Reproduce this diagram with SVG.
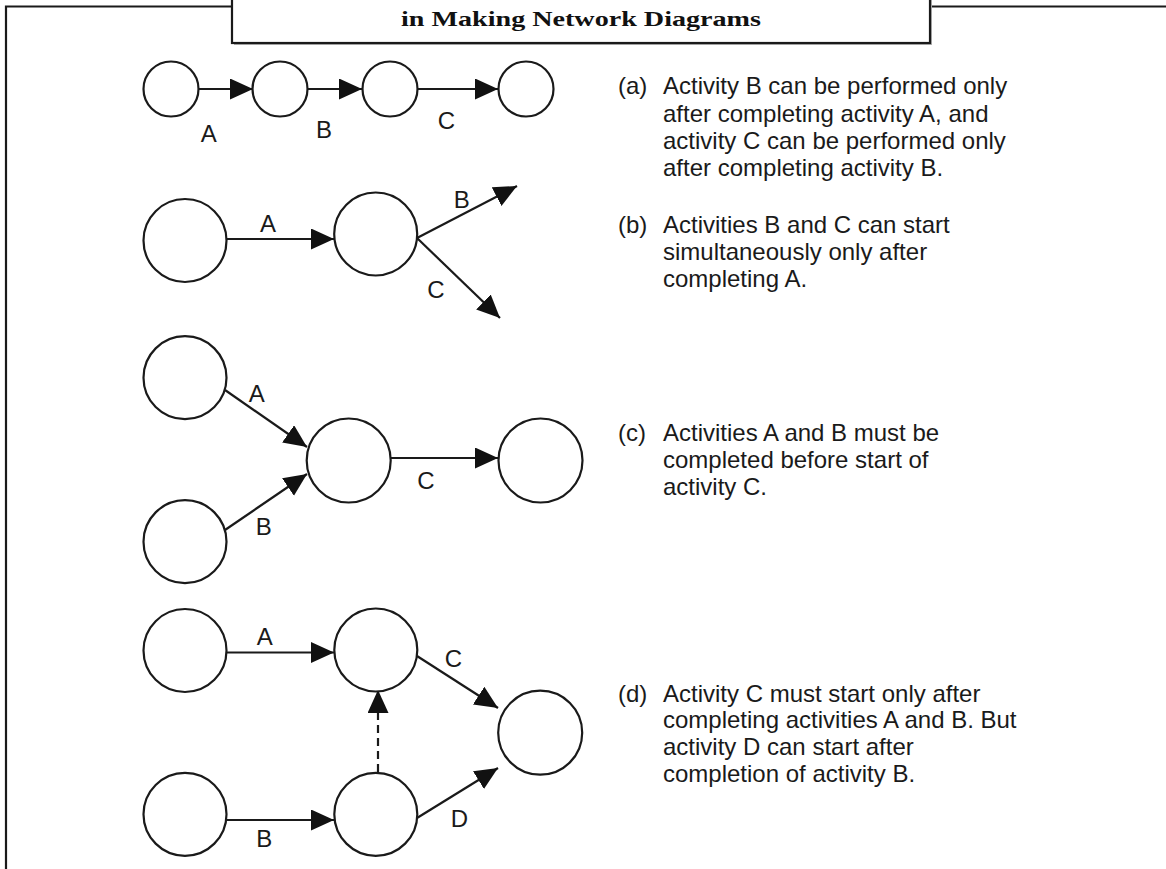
<svg xmlns="http://www.w3.org/2000/svg" width="1166" height="869" viewBox="0 0 1166 869">
  <style>
    .node { fill: #ffffff; stroke: #1a1a1a; stroke-width: 2.2; }
    .edge { fill: none; stroke: #1a1a1a; stroke-width: 2.2; marker-end: url(#arrow); }
    .dummy { stroke-dasharray: 8 5; }
    .lbl { font-family: "Liberation Sans", Arial, sans-serif; font-size: 24px; fill: #1a1a1a; text-anchor: middle; }
    .desc { font-family: "Liberation Sans", Arial, sans-serif; font-size: 24px; fill: #1a1a1a; }
    .title { font-family: "Liberation Serif", "Times New Roman", serif; font-weight: bold; font-size: 21px; fill: #111111; text-anchor: middle; }
    .frame { fill: none; stroke: #1a1a1a; stroke-width: 2.2; }
  </style>
  <defs>
    <marker id="arrow" markerUnits="userSpaceOnUse" markerWidth="24" markerHeight="22" refX="23" refY="10.5" orient="auto">
      <path d="M0,0 L23,10.5 L0,21 Z" fill="#111111"/>
    </marker>
  </defs>

  <rect width="1166" height="869" fill="#ffffff"/>

  <!-- page frame and title panel -->
  <g id="frame">
    <path class="frame" d="M6,869 V6.5 H1166"/>
    <rect x="234" y="-4" width="698" height="49" fill="#b0b0b0"/>
    <rect x="232" y="-4" width="698" height="47" fill="#ffffff" stroke="#1a1a1a" stroke-width="2.2"/>
    <text class="title" x="581" y="26" textLength="360" lengthAdjust="spacingAndGlyphs">in Making Network Diagrams</text>
  </g>

  <!-- connectors -->
  <g id="connectors">
    <!-- (a) -->
    <line class="edge" x1="199" y1="89" x2="253" y2="89"/>
    <line class="edge" x1="308" y1="89" x2="362" y2="89"/>
    <line class="edge" x1="418" y1="89" x2="498" y2="89"/>
    <!-- (b) -->
    <line class="edge" x1="227" y1="239" x2="334" y2="239"/>
    <line class="edge" x1="417" y1="238" x2="517" y2="186"/>
    <line class="edge" x1="417" y1="238" x2="500" y2="318"/>
    <!-- (c) -->
    <line class="edge" x1="225" y1="390" x2="307" y2="447"/>
    <line class="edge" x1="225" y1="530" x2="307" y2="474"/>
    <line class="edge" x1="391" y1="458" x2="498" y2="458"/>
    <!-- (d) -->
    <line class="edge" x1="227" y1="652.5" x2="334" y2="652.5"/>
    <line class="edge" x1="227" y1="820" x2="334" y2="820"/>
    <line class="edge" x1="417" y1="656" x2="498" y2="708"/>
    <line class="edge" x1="417" y1="818" x2="498" y2="768"/>
    <line class="edge dummy" x1="378" y1="772" x2="378" y2="690"/>
  </g>

  <!-- (a) nodes -->
  <g id="a-n1"><circle class="node" cx="171" cy="89" r="27.5"/></g>
  <g id="a-n2"><circle class="node" cx="280" cy="89" r="27.5"/></g>
  <g id="a-n3"><circle class="node" cx="390" cy="89" r="27.5"/></g>
  <g id="a-n4"><circle class="node" cx="526" cy="89" r="27.5"/></g>

  <!-- (b) nodes -->
  <g id="b-n1"><circle class="node" cx="185" cy="240.5" r="41.5"/></g>
  <g id="b-n2"><circle class="node" cx="375.7" cy="234" r="41.5"/></g>

  <!-- (c) nodes -->
  <g id="c-n1"><circle class="node" cx="185" cy="377.7" r="41.5"/></g>
  <g id="c-n2"><circle class="node" cx="185" cy="541.7" r="41.5"/></g>
  <g id="c-n3"><circle class="node" cx="348.7" cy="460.5" r="42"/></g>
  <g id="c-n4"><circle class="node" cx="540.5" cy="460.5" r="42"/></g>

  <!-- (d) nodes -->
  <g id="d-n1"><circle class="node" cx="185" cy="650.5" r="41.5"/></g>
  <g id="d-n2"><circle class="node" cx="185" cy="814.3" r="41.5"/></g>
  <g id="d-n3"><circle class="node" cx="375.8" cy="650" r="41.5"/></g>
  <g id="d-n4"><circle class="node" cx="375.8" cy="814.3" r="41.5"/></g>
  <g id="d-n5"><circle class="node" cx="540.2" cy="732.7" r="42"/></g>

  <!-- activity labels -->
  <g id="labels">
    <text class="lbl" x="208.7" y="141.7">A</text>
    <text class="lbl" x="324" y="138.3">B</text>
    <text class="lbl" x="446.5" y="129.3">C</text>

    <text class="lbl" x="268" y="231.7">A</text>
    <text class="lbl" x="461.7" y="208.3">B</text>
    <text class="lbl" x="435.8" y="298.3">C</text>

    <text class="lbl" x="256.7" y="401.7">A</text>
    <text class="lbl" x="263.8" y="535">B</text>
    <text class="lbl" x="426" y="489.3">C</text>

    <text class="lbl" x="264.7" y="645">A</text>
    <text class="lbl" x="264.2" y="846.7">B</text>
    <text class="lbl" x="453.3" y="666.7">C</text>
    <text class="lbl" x="459.5" y="827.3">D</text>
  </g>

  <!-- rule descriptions -->
  <g id="desc-a">
    <text class="desc" x="618" y="94">(a)</text>
    <text class="desc" x="663" y="94">Activity B can be performed only</text>
    <text class="desc" x="663" y="121.5">after completing activity A, and</text>
    <text class="desc" x="663" y="149">activity C can be performed only</text>
    <text class="desc" x="663" y="175.5">after completing activity B.</text>
  </g>
  <g id="desc-b">
    <text class="desc" x="618" y="233.3">(b)</text>
    <text class="desc" x="663" y="233.3">Activities B and C can start</text>
    <text class="desc" x="663" y="260">simultaneously only after</text>
    <text class="desc" x="663" y="287.3">completing A.</text>
  </g>
  <g id="desc-c">
    <text class="desc" x="618" y="440.7">(c)</text>
    <text class="desc" x="663" y="440.7">Activities A and B must be</text>
    <text class="desc" x="663" y="468">completed before start of</text>
    <text class="desc" x="663" y="495">activity C.</text>
  </g>
  <g id="desc-d">
    <text class="desc" x="618" y="701.7">(d)</text>
    <text class="desc" x="663" y="701.7">Activity C must start only after</text>
    <text class="desc" x="663" y="728.3">completing activities A and B. But</text>
    <text class="desc" x="663" y="755">activity D can start after</text>
    <text class="desc" x="663" y="781.7">completion of activity B.</text>
  </g>
</svg>
